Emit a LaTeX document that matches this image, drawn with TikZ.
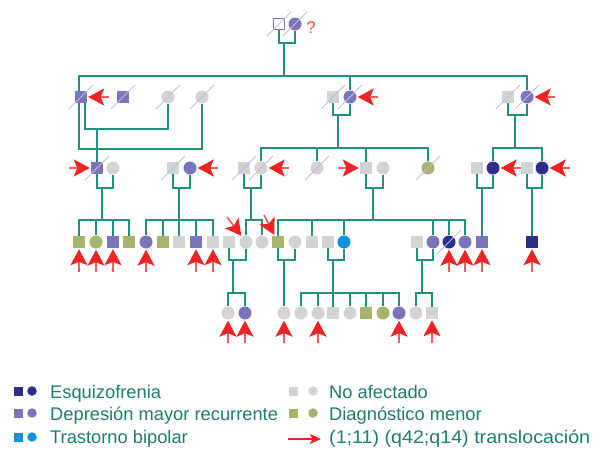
\documentclass[tikz,border=0pt]{standalone}
\usepackage{fontspec}
\setmainfont{Liberation Sans}
\usetikzlibrary{calc,arrows.meta}

\definecolor{schiz}{HTML}{2E2D88}
\definecolor{depr}{HTML}{7B74BB}
\definecolor{bipol}{HTML}{0B92DC}
\definecolor{unaffc}{HTML}{D2D3D5}
\definecolor{minorc}{HTML}{A8B46B}
\definecolor{linkc}{HTML}{20907F}
\definecolor{arrowc}{HTML}{EE2424}
\definecolor{legendtxt}{HTML}{1C7D70}
\definecolor{slashc}{HTML}{BDBDDF}
\definecolor{qmark}{HTML}{E8503A}

\tikzset{
  link/.style={draw=linkc, line width=1.3pt},
  male/.style={rectangle, minimum size=12pt, inner sep=0pt},
  female/.style={circle, minimum size=13pt, inner sep=0pt},
  unaff/.style={fill=unaffc},
  minor/.style={fill=minorc},
  dep/.style={fill=depr},
  scz/.style={fill=schiz},
  bip/.style={fill=bipol},
  decline/.style={draw=slashc, line width=1pt},
  tloc/.style={draw=arrowc!75, line width=1.6pt, shorten >=1pt,
    -{Stealth[length=16pt,width=17pt,inset=3.5pt,color=arrowc]}},
  lgsq/.style={rectangle, minimum size=9pt, inner sep=0pt},
  lgci/.style={circle, minimum size=9.5pt, inner sep=0pt},
  lgtext/.style={anchor=base west, inner sep=0pt, text=legendtxt,
    font=\fontsize{18.3}{20}\selectfont},
}

% deceased mark: slash through a symbol
\newcommand\deadmark[1]{\draw[decline] ($(#1)+(-12,12)$) -- ($(#1)+(12,-12)$);}
% translocation carrier arrows
\newcommand\arrowfromright[1]{\draw[tloc] ($(#1)+(28,0)$) -- (#1);}
\newcommand\arrowfromleft[1]{\draw[tloc] ($(#1)+(-28,0)$) -- (#1);}
\newcommand\arrowfrombelow[1]{\draw[tloc] ($(#1)+(0,30)$) -- (#1);}

\begin{document}
\begin{tikzpicture}[x=1pt,y=-1pt]
\useasboundingbox (0,0) rectangle (601,450);

% ---------------- Generation I
\node[male, draw=depr, fill=white, line width=1pt, minimum size=11pt] (i1) at (279,24) {};
\node[female, dep] (i2) at (295,24) {};
\node[text=qmark, font=\fontsize{17}{17}\selectfont, inner sep=0pt] (qm) at (311,28) {?};

% ---------------- Generation II
\node[male, dep] (a1) at (81,97) {};
\node[male, dep] (a2) at (123,97) {};
\node[female, unaff] (a3) at (168,97) {};
\node[female, unaff] (a4) at (202,97) {};
\node[male, unaff] (b1) at (333,97) {};
\node[female, dep] (b2) at (350,97) {};
\node[male, unaff] (c1) at (508,97) {};
\node[female, dep] (c2) at (527,97) {};

% ---------------- Generation III
\node[male, dep] (d1) at (97,168) {};
\node[female, unaff] (d2) at (113,168) {};
\node[male, unaff] (e1) at (173,168) {};
\node[female, dep] (e2) at (190,168) {};
\node[male, unaff] (f1) at (244,168) {};
\node[female, unaff] (f2) at (261,168) {};
\node[female, unaff] (f3) at (317,168) {};
\node[male, unaff] (g1) at (366,168) {};
\node[female, unaff] (g2) at (383,168) {};
\node[female, minor] (f4) at (428,168) {};
\node[male, unaff] (h1) at (477,168) {};
\node[female, scz] (h2) at (493,168) {};
\node[male, unaff] (k1) at (527,168) {};
\node[female, scz] (k2) at (542,168) {};

% ---------------- Generation IV
\node[male, minor] (p1) at (79,242) {};
\node[female, minor] (p2) at (96,242) {};
\node[male, dep] (p3) at (113,242) {};
\node[male, minor] (p4) at (129,242) {};
\node[female, dep] (p5) at (146,242) {};
\node[male, minor] (p6) at (163,242) {};
\node[male, unaff] (p7) at (179,242) {};
\node[male, dep] (p8) at (196,242) {};
\node[male, unaff] (p9) at (213,242) {};
\node[male, unaff] (p10) at (229,242) {};
\node[female, unaff] (p11) at (246,242) {};
\node[female, unaff] (p12) at (262,242) {};
\node[male, minor] (p13) at (278,242) {};
\node[female, unaff] (p14) at (295,242) {};
\node[male, unaff] (p15) at (312,242) {};
\node[male, unaff] (p16) at (328,242) {};
\node[female, bip] (p17) at (344,242) {};
\node[male, unaff] (q1) at (417,242) {};
\node[female, dep] (q2) at (433,242) {};
\node[female, scz] (q3) at (449,242) {};
\node[female, dep] (q4) at (465,242) {};
\node[male, dep] (q5) at (482,242) {};
\node[male, scz] (q6) at (532,242) {};

% ---------------- Generation V
\node[female, unaff] (v1) at (228,313) {};
\node[female, dep] (v2) at (245,313) {};
\node[female, unaff] (v3) at (284,313) {};
\node[female, unaff] (v4) at (301,313) {};
\node[female, unaff] (v5) at (318,313) {};
\node[male, unaff] (v6) at (333,313) {};
\node[female, unaff] (v7) at (350,313) {};
\node[male, minor] (v8) at (366,313) {};
\node[female, minor] (v9) at (383,313) {};
\node[female, dep] (v10) at (399,313) {};
\node[female, unaff] (v11) at (416,313) {};
\node[male, unaff] (v12) at (432,313) {};

% ---------------- Connecting lines
% I -> II
\draw[link] (i1) -- (i1 |- 0,43) -- (i2 |- 0,43) -- (i2);
\draw[link] (284,43) -- (284,76);
\draw[link] (a4) -- (a4 |- 0,149) -- (79,149) -- (79,76) -- (c2 |- 0,76) -- (c2);
\draw[link] (b2 |- 0,76) -- (b2);
% II -> III
\draw[link] ([xshift=4pt]a1.south) |- (a3 |- 0,129) -- (a3);
\draw[link] (d1 |- 0,129) -- (d1);
\draw[link] (b1) -- (b1 |- 0,115) -- (b2 |- 0,115) -- (b2);
\draw[link] (338,115) -- (338,148);
\draw[link] (f2) -- (f2 |- 0,148) -- (f4 |- 0,148) -- (f4);
\draw[link] (f3 |- 0,148) -- (f3);
\draw[link] (g1 |- 0,148) -- (g1);
\draw[link] (c1) -- (c1 |- 0,115) -- (c2 |- 0,115) -- (c2);
\draw[link] (515,115) -- (515,148);
\draw[link] (h2) -- (h2 |- 0,148) -- (k2 |- 0,148) -- (k2);
% III -> IV
\draw[link] (d1) -- (d1 |- 0,188) -- (d2 |- 0,188) -- (d2);
\draw[link] (102,188) -- (102,220);
\draw[link] (p1) -- (p1 |- 0,220) -- (p4 |- 0,220) -- (p4);
\draw[link] (p2 |- 0,220) -- (p2);
\draw[link] (p3 |- 0,220) -- (p3);
\draw[link] (e1) -- (e1 |- 0,188) -- (e2 |- 0,188) -- (e2);
\draw[link] (p7 |- 0,188) -- (p7);
\draw[link] (p5) -- (p5 |- 0,220) -- (p9 |- 0,220) -- (p9);
\draw[link] (p6 |- 0,220) -- (p6);
\draw[link] (p8 |- 0,220) -- (p8);
\draw[link] (f1) -- (f1 |- 0,188) -- (f2 |- 0,188) -- (f2);
\draw[link] (251,188) -- (251,220);
\draw[link] (p11) -- (p11 |- 0,220) -- (p12 |- 0,220) -- (p12);
\draw[link] (g1) -- (g1 |- 0,188) -- (g2 |- 0,188) -- (g2);
\draw[link] (373,188) -- (373,220);
\draw[link] (p13) -- (p13 |- 0,220) -- (q4 |- 0,220) -- (q4);
\draw[link] (p15 |- 0,220) -- (p15);
\draw[link] (p17 |- 0,220) -- (p17);
\draw[link] (q2 |- 0,220) -- (q2);
\draw[link] (q3 |- 0,220) -- (q3);
\draw[link] (h1) -- (h1 |- 0,188) -- (h2 |- 0,188) -- (h2);
\draw[link] (q5 |- 0,188) -- (q5);
\draw[link] (k1) -- (k1 |- 0,188) -- (k2 |- 0,188) -- (k2);
\draw[link] (q6 |- 0,188) -- (q6);
% IV -> V
\draw[link] (p10) -- (p10 |- 0,260) -- (p11 |- 0,260) -- (p11);
\draw[link] (233,260) -- (233,293);
\draw[link] (v1) -- (v1 |- 0,293) -- (v2 |- 0,293) -- (v2);
\draw[link] (p13) -- (p13 |- 0,260) -- (p14 |- 0,260) -- (p14);
\draw[link] (v3 |- 0,260) -- (v3);
\draw[link] (p16) -- (p16 |- 0,260) -- (p17 |- 0,260) -- (p17);
\draw[link] (v6 |- 0,260) -- (v6);
\draw[link] (v4) -- (v4 |- 0,293) -- (v10 |- 0,293) -- (v10);
\foreach \n in {v5,v7,v8,v9} {\draw[link] (\n |- 0,293) -- (\n);}
\draw[link] (q1) -- (q1 |- 0,260) -- (q2 |- 0,260) -- (q2);
\draw[link] (422,260) -- (422,293);
\draw[link] (v11) -- (v11 |- 0,293) -- (v12 |- 0,293) -- (v12);

% symbols crossed by a line are painted again on top
\foreach \n/\s/\f in {a1/male/dep,d1/male/dep,p7/male/unaff,v6/male/unaff}
  {\node[\s,\f] at (\n) {};}

% ---------------- Deceased marks
\foreach \n in {i1,i2,a1,a2,a3,a4,b1,b2,c1,c2,d1,e1,f1,f2,f3,f4,q3}
  {\deadmark{\n}}

% ---------------- Translocation carriers
\foreach \n in {a1,b2,c2,e2,f2,h2,k2} {\arrowfromright{\n}}
\foreach \n in {d1,g1} {\arrowfromleft{\n}}
\foreach \n in {p1,p2,p3,p5,p8,p9,q3,q4,q5,q6,v1,v2,v3,v5,v10,v12} {\arrowfrombelow{\n}}
\draw[tloc] ($(p11)+(-19,-25)$) -- (p11);
\draw[tloc] ($(p13)+(-14,-27)$) -- (p13);

% ---------------- Legend
\node[lgsq, scz] (ls1) at (18,391) {};
\node[lgci, scz] (lc1) at (32,391) {};
\node[lgtext] (lt1) at (50,398) {Esquizofrenia};
\node[lgsq, dep] (ls2) at (18,413) {};
\node[lgci, dep] (lc2) at (32,413) {};
\node[lgtext] (lt2) at (50,420) {Depresión mayor recurrente};
\node[lgsq, bip] (ls3) at (18,437) {};
\node[lgci, bip] (lc3) at (32,437) {};
\node[lgtext] (lt3) at (50,443) {Trastorno bipolar};
\node[lgsq, unaff] (ls4) at (293,391) {};
\node[lgci, unaff] (lc4) at (313,391) {};
\node[lgtext] (lt4) at (329,398) {No afectado};
\node[lgsq, minor] (ls5) at (293,413) {};
\node[lgci, minor] (lc5) at (313,413) {};
\node[lgtext] (lt5) at (329,420) {Diagnóstico menor};
\coordinate (la) at (288,439);
\draw[draw=arrowc, line width=1.5pt, -{Stealth[length=11pt,width=10pt,inset=2.5pt]}] (la) -- ++(33,0) coordinate (lb);
\node[lgtext] (lt6) at (329,443) {\scalebox{1.075}[1]{(1;11) (q42;q14) translocación}};
\end{tikzpicture}
\end{document}
